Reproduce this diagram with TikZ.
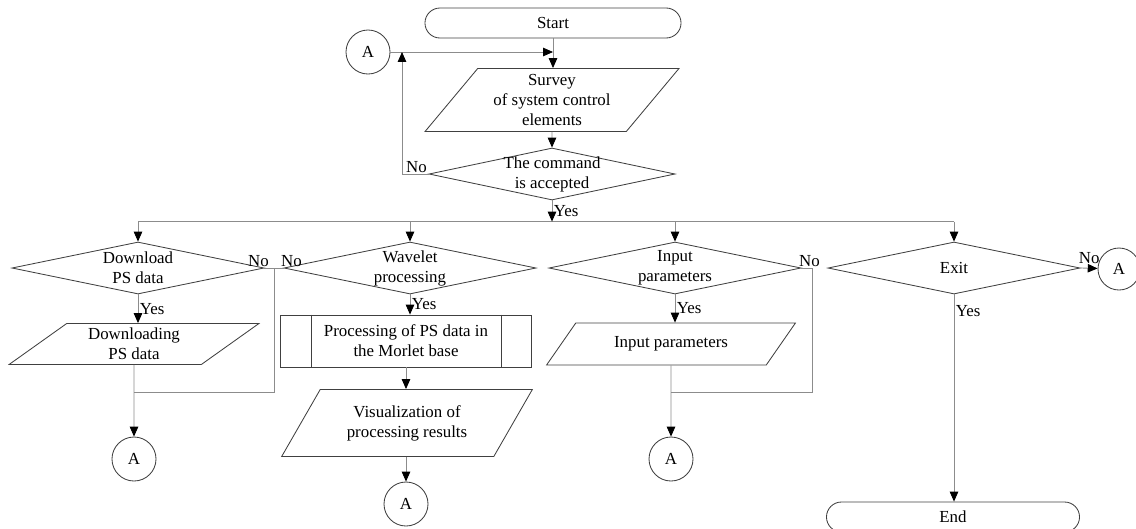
\documentclass[tikz,border=0pt]{standalone}
\usepackage{fontspec}
\setmainfont{Liberation Serif}
\usetikzlibrary{shapes.geometric, arrows.meta, calc}

\tikzset{
  every node/.style={font=\fontsize{12}{14.2}\selectfont},
  shapeline/.style={draw=black!75, line width=0.6pt},
  terminal/.style={shapeline, rectangle, rounded corners=0.375cm, minimum width=#1, minimum height=0.75cm, inner sep=0pt},
  decision/.style={shapeline, diamond, aspect=4.8, inner sep=-4pt, minimum width=#1, minimum height=1.3cm, align=center},
  datain/.style 2 args={shapeline, trapezium, trapezium left angle=#1, trapezium right angle=#2, trapezium stretches=true, inner sep=0pt, align=center},
  process/.style={shapeline, rectangle, minimum width=6.275cm, minimum height=1.3cm, inner sep=0pt, align=center},
  connector/.style={shapeline, circle, minimum size=1.1cm, inner sep=0pt},
  line/.style={draw=black!45, line width=0.6pt},
  arr/.style={line, -{Triangle[length=7pt, width=6pt, color=black]}},
  lbl/.style={inner sep=1pt}
}

\begin{document}
\begin{tikzpicture}[x=0.025cm, y=-0.025cm]
  \useasboundingbox (0,0) rectangle (1136,528);

  % start, survey and the command check
  \node [terminal=6.4cm] (start) at (553,23) {Start};
  \node [datain={51}{129}, minimum width=6.35cm, minimum height=1.575cm] (survey) at (552,100) {Survey\\of system control\\elements};
  \node [decision=6.15cm] (cmd) at (552,174) {The command\\is accepted};
  \node [connector] (a-0) at (368,52) {A};
  \coordinate (loop) at (402,52);
  \coordinate (merge) at (start.south |- a-0);

  \draw [arr] (start.south) -- (start.south |- survey.north);
  \draw [arr] (a-0) -- (merge);
  \draw [arr] (survey.south) -- (cmd.north);
  \draw [arr] (cmd.west) -| (loop);
  \node [lbl, anchor=south east] (no-cmd) at (cmd.west) {No};

  % menu branches
  \foreach \n/\x/\t in {dl/138/{Download\\PS data}, wv/410/{Wavelet\\processing}, inp/675/{Input\\parameters}, ex/954/Exit} {
    \node [decision=6.3cm] (\n) at (\x,268) {\t};
  };
  \path (dl.north) ++(0,-20) coordinate (bus-l);
  \draw [line] (bus-l) -- (bus-l -| ex.north);
  \foreach \n in {dl,wv,inp,ex} {
    \draw [arr] (bus-l -| \n.north) -- (\n.north);
  };
  \draw [arr] (cmd.south) -- node [lbl, right] (yes-cmd) {Yes} (cmd.south |- bus-l);

  \node [datain={39}{141}, minimum width=6.25cm, minimum height=1.025cm] (dl-data) at (134,344) {Downloading\\PS data};
  \node [process] (proc) at (406,341) {Processing of PS data in\\the Morlet base};
  \draw [shapeline] ([xshift=0.775cm]proc.north west) -- ([xshift=0.775cm]proc.south west)
                    ([xshift=-0.775cm]proc.north east) -- ([xshift=-0.775cm]proc.south east);
  \node [datain={53}{127}, minimum width=6.275cm, minimum height=1.675cm] (vis) at (407,423) {Visualization of\\processing results};
  \node [datain={40}{140}, minimum width=6.225cm, minimum height=1.05cm] (inp-data) at (671,344) {Input parameters};

  \node [connector] (a-1) at (134,459) {A};
  \node [connector] (a-2) at (406,504) {A};
  \node [connector] (a-3) at (671,459) {A};
  \node [connector, minimum size=1.05cm] (a-4) at (1119,269) {A};
  \node [terminal=6.325cm] (stop) at (953,517) {End};

  \draw [arr] (dl.south) -- node [lbl, right] (yes-dl) {Yes} (dl.south |- dl-data.north);
  \draw [arr] (wv.south) -- node [lbl, right] (yes-wv) {Yes} (wv.south |- proc.north);
  \draw [arr] (proc.south) -- (proc.south |- vis.north);
  \draw [arr] (a-2.north |- vis.south) -- (a-2.north);
  \draw [arr] (inp.south) -- node [lbl, right] (yes-inp) {Yes} (inp.south |- inp-data.north);
  \draw [arr] (ex.south) -- node [lbl, right, pos=0.08] (yes-ex) {Yes} (ex.south |- stop.north);
  \draw [arr] (ex.east) -- (a-4);
  \draw [arr] (dl-data.south) -- (a-1);
  \draw [arr] (inp-data.south) -- (a-3);

  % no branches
  \coordinate (no-left) at ($(dl.east)!0.5!(wv.west)$);
  \coordinate (join-l) at (134,392);
  \coordinate (join-r) at (671,392);
  \draw [line] (dl.east) -- (wv.west);
  \draw [line] (no-left) |- (join-l);
  \draw [line] (inp.east) -- ++(11,0) |- (join-r);
  \node [lbl, anchor=south, xshift=-0.15cm] (no-dl) at (dl.east) {No};
  \node [lbl, anchor=south, xshift=0.2cm] (no-wv) at (wv.west) {No};
  \node [lbl, anchor=south, xshift=0.2cm] (no-inp) at (inp.east) {No};
  \node [lbl, anchor=south, xshift=0.22cm, yshift=2pt] (no-ex) at (ex.east) {No};
\end{tikzpicture}
\end{document}
